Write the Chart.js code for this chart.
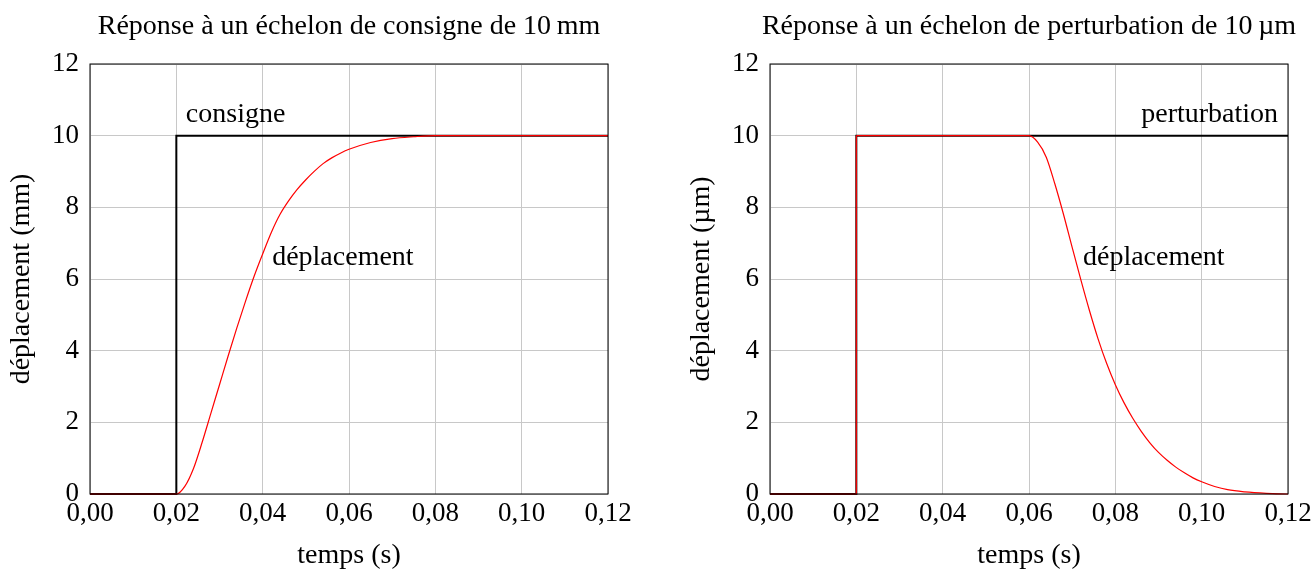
<!DOCTYPE html>
<html lang="fr">
<head>
<meta charset="utf-8">
<title>Réponses à un échelon</title>
<script src="https://cdn.jsdelivr.net/npm/chart.js@4.4.1/dist/chart.umd.min.js"></script>
<style>
  html, body { margin: 0; padding: 0; background: #fff; overflow: hidden; width: 1313px; height: 570px; }
  #gauche { position: absolute; left: 0; top: 0; }
  #droite { position: absolute; left: 680px; top: 0; }
</style>
</head>
<body>
<canvas id="gauche" width="640" height="570"></canvas>
<canvas id="droite" width="640" height="570"></canvas>
<script>
// axes
const xTicks = [0, 0.02, 0.04, 0.06, 0.08, 0.10, 0.12];
const yTicks = [0, 2, 4, 6, 8, 10, 12];

// graphe de gauche : échelon de consigne
const tConsigne = [0, 0.02, 0.02, 0.12];
const consigne = [0, 0, 10, 10];
const tDeplConsigne = [0, 0.02, 0.022, 0.024, 0.026, 0.028, 0.030, 0.032, 0.034, 0.036, 0.038,
                       0.040, 0.042, 0.044, 0.046, 0.048, 0.050, 0.052, 0.054, 0.056, 0.058,
                       0.060, 0.065, 0.070, 0.075, 0.080, 0.12];
const deplConsigne = [0, 0, 0.22, 0.72, 1.45, 2.25, 3.05, 3.85, 4.63, 5.37, 6.07,
                      6.7, 7.3, 7.8, 8.18, 8.5, 8.77, 9.01, 9.22, 9.38, 9.51,
                      9.62, 9.81, 9.92, 9.97, 10, 10];

// graphe de droite : échelon de perturbation
const tPerturb = [0, 0.02, 0.02, 0.12];
const perturbation = [0, 0, 10, 10];
const tDeplSaut = [0, 0.02, 0.02];
const deplSaut = [0, 0, 10];
const tDeplPerturb = [0.02, 0.06, 0.062, 0.064, 0.066, 0.068, 0.070, 0.072, 0.074, 0.076, 0.078,
                      0.080, 0.082, 0.084, 0.086, 0.088, 0.090, 0.092, 0.094, 0.096, 0.098,
                      0.100, 0.103, 0.106, 0.110, 0.115, 0.120];
const deplPerturb = [10, 10, 9.82, 9.4, 8.65, 7.8, 6.88, 5.98, 5.12, 4.33, 3.64,
                     3.05, 2.55, 2.12, 1.75, 1.43, 1.16, 0.94, 0.75, 0.59, 0.45,
                     0.34, 0.21, 0.12, 0.06, 0.02, 0];

const police = "'Liberation Serif', 'Times New Roman', serif";

function points(xs, ys) {
    return xs.map((x, i) => ({ x: x, y: ys[i] }));
}

// titre + étiquettes dans le graphe + cadre
const decor = {
    id: 'decor',
    afterDatasetsDraw(chart, args, opts) {
        const ctx = chart.ctx;
        const a = chart.chartArea;
        const sx = chart.scales.x, sy = chart.scales.y;
        ctx.save();
        ctx.strokeStyle = '#000';
        ctx.lineWidth = 1;
        ctx.strokeRect(a.left, a.top, a.right - a.left, a.bottom - a.top);
        ctx.fillStyle = '#000';
        ctx.font = '28px ' + police;
        ctx.textBaseline = 'middle';
        ctx.textAlign = 'center';
        ctx.fillText(opts.titre, (a.left + a.right) / 2, 27);
        opts.etiquettes.forEach(e => {
            ctx.textAlign = e.align;
            ctx.fillText(e.texte, sx.getPixelForValue(e.x), sy.getPixelForValue(e.y));
        });
        ctx.restore();
    }
};

function graphe(id, titre, uniteY, datasets, etiquettes) {
    new Chart(document.getElementById(id), {
        type: 'scatter',
        data: { datasets: datasets },
        plugins: [decor],
        options: {
            responsive: false,
            animation: false,
            layout: { padding: { top: 64, left: 0, right: 32, bottom: 0 } },
            plugins: {
                legend: { display: false },
                tooltip: { enabled: false },
                decor: { titre: titre, etiquettes: etiquettes }
            },
            elements: { point: { radius: 0 } },
            scales: {
                x: {
                    type: 'linear',
                    min: 0,
                    max: 0.12,
                    afterBuildTicks: s => { s.ticks = xTicks.map(v => ({ value: v })); },
                    afterFit: s => { s.height = 76; },
                    grid: { color: '#c8c8c8', drawTicks: false },
                    border: { display: false },
                    ticks: {
                        color: '#000',
                        padding: 4,
                        maxRotation: 0,
                        font: { family: police, size: 27 },
                        callback: v => v.toFixed(2).replace('.', ',')
                    },
                    title: {
                        display: true,
                        text: 'temps (s)',
                        color: '#000',
                        padding: 0,
                        font: { family: police, size: 28, lineHeight: 1 }
                    }
                },
                y: {
                    type: 'linear',
                    min: 0,
                    max: 12,
                    afterBuildTicks: s => { s.ticks = yTicks.map(v => ({ value: v })); },
                    afterFit: s => { s.width = 90; },
                    grid: { color: '#c8c8c8', drawTicks: false },
                    border: { display: false },
                    ticks: {
                        color: '#000',
                        padding: 11,
                        font: { family: police, size: 27 }
                    },
                    title: {
                        display: true,
                        text: 'déplacement (' + uniteY + ')',
                        color: '#000',
                        padding: { top: 8, bottom: 0 },
                        font: { family: police, size: 28, lineHeight: 1 }
                    }
                }
            }
        }
    });
}

graphe('gauche', 'Réponse à un échelon de consigne de 10\u2009mm', 'mm', [
    {
        data: points(tDeplConsigne, deplConsigne),
        showLine: true,
        borderColor: '#ff0000',
        borderWidth: 1.2,
        cubicInterpolationMode: 'monotone',
        clip: 3
    },
    {
        data: points(tConsigne, consigne),
        showLine: true,
        borderColor: '#000',
        borderWidth: 2,
        clip: 3
    }
], [
    { texte: 'consigne', x: 0.0222, y: 10.6, align: 'left' },
    { texte: 'déplacement', x: 0.0422, y: 6.6, align: 'left' }
]);

graphe('droite', 'Réponse à un échelon de perturbation de 10\u2009µm', 'µm', [
    {
        data: points(tDeplPerturb, deplPerturb),
        showLine: true,
        borderColor: '#ff0000',
        borderWidth: 1.2,
        cubicInterpolationMode: 'monotone',
        clip: 3
    },
    {
        data: points(tDeplSaut, deplSaut),
        showLine: true,
        borderColor: '#ff0000',
        borderWidth: 1.2,
        clip: 3
    },
    {
        data: points(tPerturb, perturbation),
        showLine: true,
        borderColor: '#000',
        borderWidth: 2,
        clip: 3
    }
], [
    { texte: 'perturbation', x: 0.1177, y: 10.6, align: 'right' },
    { texte: 'déplacement', x: 0.0725, y: 6.6, align: 'left' }
]);
</script>
</body>
</html>
